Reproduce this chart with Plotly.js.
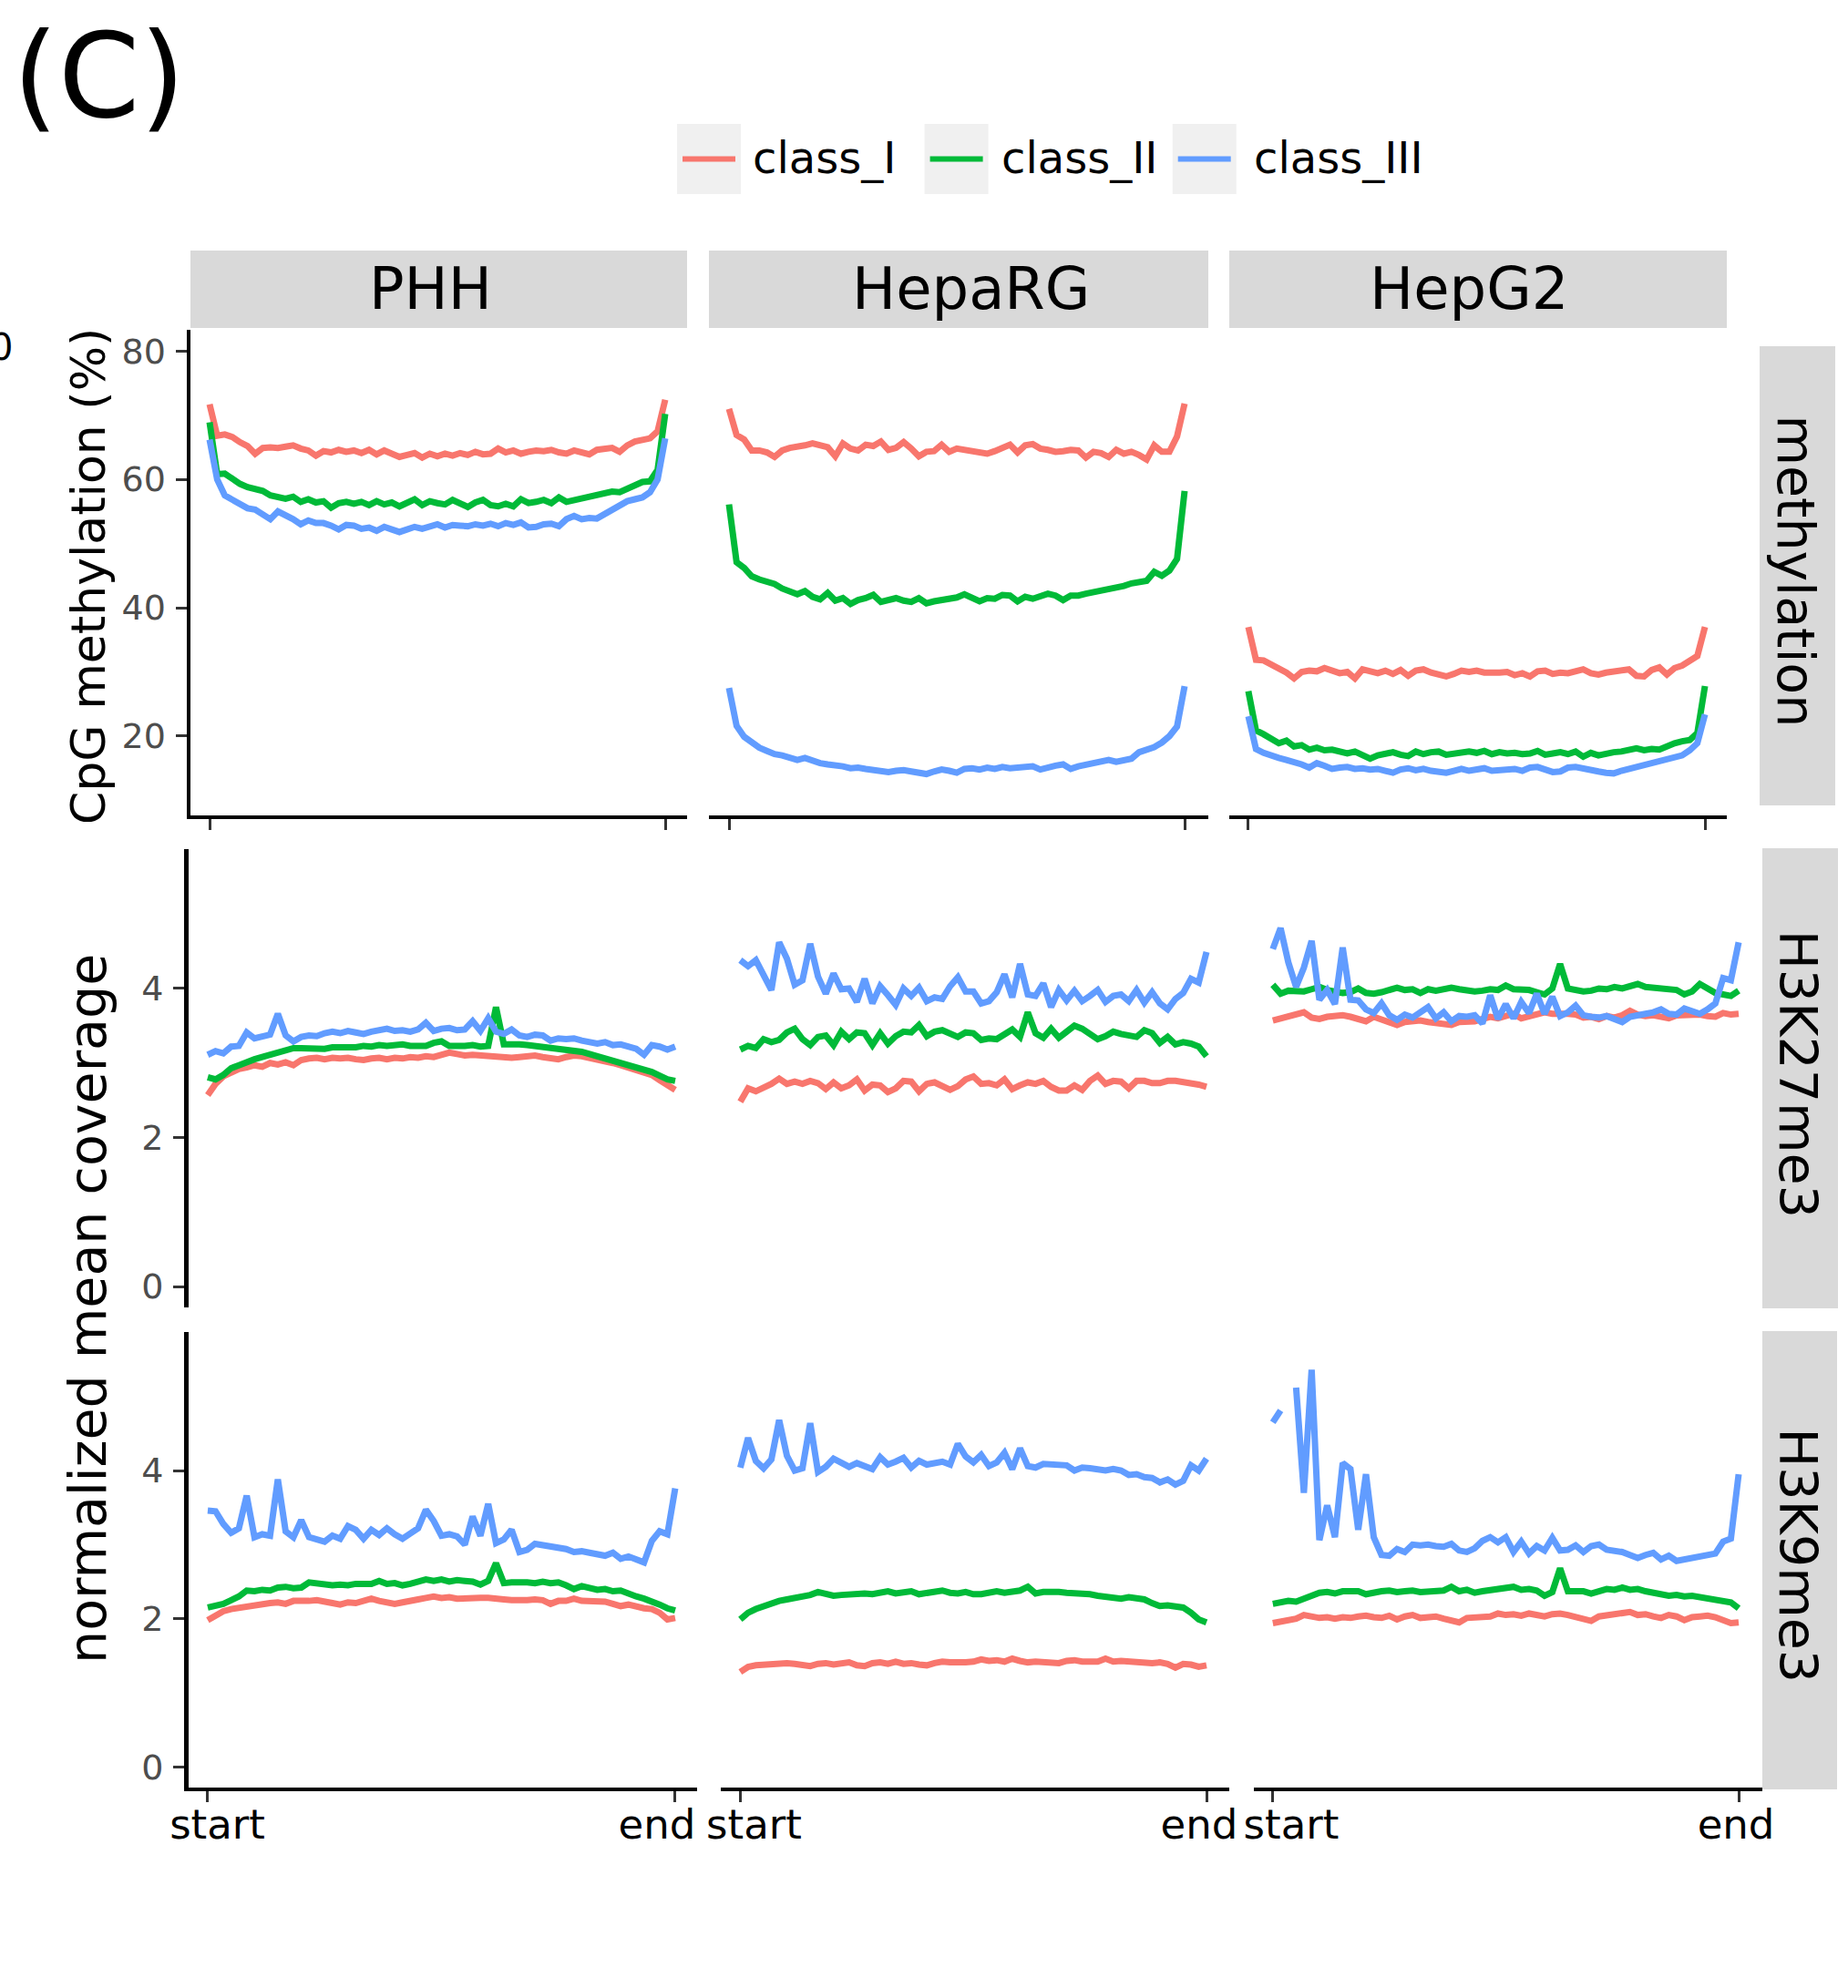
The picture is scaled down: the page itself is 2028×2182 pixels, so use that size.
<!DOCTYPE html>
<html>
<head>
<meta charset="utf-8">
<script src="https://cdn.plot.ly/plotly-3.0.1.min.js"></script>
<style>
html,body{margin:0;padding:0;background:#ffffff;}
#chart{width:2028px;height:2182px;}
</style>
</head>
<body>
<div id="chart"></div>
<script>
// ---------------- DATA ----------------
const classes = ["class_I", "class_II", "class_III"];
const cellLines = ["PHH", "HepaRG", "HepG2"];
const marks = ["methylation", "H3K27me3", "H3K9me3"];
const tickLabelsX = ["start", "end"];
const classColors = ["#F8766D", "#00BA38", "#619CFF"];

// CpG methylation (%)
const meth_PHH_I = [71.7,66.8,67.0,66.6,65.8,65.2,64.0,64.9,65.0,64.9,
 65.1,65.3,64.8,64.5,63.7,64.4,64.2,64.6,64.3,64.5,
 64.1,64.6,63.9,64.5,64.0,63.5,63.8,64.1,63.4,64.0,
 63.6,64.0,63.7,64.1,63.8,64.3,63.9,64.0,64.8,64.2,
 64.5,64.0,64.3,64.5,64.4,64.6,64.2,64.0,64.5,64.3,
 63.9,64.6,64.8,64.9,64.3,65.3,65.9,66.2,66.4,67.5,
 72.4];
const meth_PHH_II = [68.9,60.8,60.9,60.0,59.3,58.8,58.6,58.2,57.5,57.2,
 57.0,57.3,56.5,56.9,56.4,56.6,55.6,56.3,56.5,56.2,
 56.5,56.0,56.6,56.1,56.4,55.8,56.3,56.9,56.0,56.6,
 56.3,56.1,56.8,56.2,55.7,56.4,56.8,56.0,55.8,56.2,
 55.8,56.9,56.3,56.5,56.8,56.3,57.2,56.5,56.8,57.0,
 57.3,57.5,57.9,58.1,58.0,58.6,59.2,59.6,59.7,61.5,
 70.2];
const meth_PHH_III = [66.2,60.0,57.5,56.8,56.0,55.5,55.3,54.5,53.8,55.0,
 54.5,53.8,53.0,53.6,53.2,53.2,52.8,52.2,52.9,52.8,
 52.3,52.5,52.0,52.6,52.2,51.8,52.2,52.6,52.3,52.7,
 53.0,52.5,52.9,52.8,52.7,53.0,52.8,53.1,52.7,53.2,
 52.9,53.3,52.5,52.6,53.0,53.1,52.7,53.8,54.3,53.8,
 54.0,53.9,54.6,55.2,56.0,56.6,56.9,57.2,58.0,60.0,
 66.4];
const meth_HepaRG_I = [71.0,66.9,66.2,64.5,64.5,64.2,63.5,64.5,64.9,65.0,
 65.3,65.6,65.2,65.0,63.6,65.6,64.8,64.5,65.4,65.2,
 65.9,64.6,64.9,65.8,64.8,63.6,64.3,64.4,65.4,64.3,
 64.8,64.6,64.5,64.3,64.0,64.4,64.9,65.4,64.2,65.3,
 65.5,64.8,64.6,64.3,64.4,64.6,64.5,63.4,64.3,64.1,
 63.5,64.6,64.0,64.3,63.8,63.1,65.3,64.3,64.3,66.7,
 71.8];
const meth_HepaRG_II = [56.1,47.1,46.2,44.9,44.4,44.0,43.7,43.0,42.6,42.1,
 42.6,41.7,41.3,42.3,41.1,41.5,40.6,41.2,41.5,42.0,
 40.9,41.1,41.5,41.1,40.9,41.5,40.7,41.0,41.2,41.2,
 41.6,42.1,41.5,41.0,41.5,41.4,42.0,41.9,41.0,41.7,
 41.4,41.7,42.2,41.9,41.2,41.9,41.9,42.2,42.4,42.6,
 42.9,43.1,43.4,43.8,43.9,44.2,45.6,45.0,45.8,47.6,
 58.2];
const meth_HepaRG_III = [27.5,21.6,19.9,19.1,18.2,17.7,17.2,17.0,16.7,16.3,
 16.6,16.1,15.8,15.6,15.5,15.3,15.0,15.1,14.9,14.7,
 14.6,14.4,14.6,14.7,14.5,14.3,14.1,14.5,14.8,14.6,
 14.3,14.9,15.0,14.8,15.1,14.9,15.2,15.0,15.1,15.2,
 15.3,14.8,15.2,15.4,15.6,14.9,15.3,15.5,15.7,16.0,
 16.3,16.0,16.2,16.5,17.5,17.9,18.3,19.0,20.0,21.5,
 27.8];
const meth_HepG2_I = [37.0,31.9,31.8,31.2,30.4,29.9,29.0,30.0,30.2,30.1,
 30.6,30.3,29.8,30.0,29.0,30.4,30.2,29.8,30.2,29.7,
 30.3,29.4,30.2,30.4,29.9,29.6,29.3,29.7,30.2,30.0,
 30.2,29.9,29.8,29.9,30.0,29.5,29.8,29.3,30.1,30.2,
 29.7,29.9,29.8,30.2,30.4,29.8,29.6,29.9,30.0,30.1,
 30.4,29.4,29.3,30.3,30.7,29.6,30.6,31.0,31.7,32.5,
 37.0];
const meth_HepG2_II = [27.0,20.9,20.3,19.7,18.9,19.3,18.4,18.6,17.9,18.2,
 17.8,17.9,17.6,17.3,17.6,17.0,16.5,17.0,17.3,17.5,
 17.1,16.9,17.6,17.2,17.5,17.6,17.1,17.2,17.3,17.6,
 17.4,17.7,17.2,17.5,17.3,17.4,17.2,17.3,17.7,17.1,
 17.3,17.5,17.2,17.6,16.8,17.4,17.0,17.3,17.5,17.6,
 17.8,18.1,17.8,18.0,17.9,18.5,18.9,19.2,19.4,20.5,
 27.8];
const meth_HepG2_III = [23.1,18.0,17.4,16.9,16.6,16.3,16.0,15.6,15.1,15.8,
 15.4,14.9,15.1,15.2,14.9,15.0,14.8,14.9,14.6,14.3,
 14.8,15.0,14.7,14.9,14.6,14.4,14.3,14.6,14.9,14.6,
 14.8,15.0,14.6,14.7,14.8,14.9,14.6,15.1,15.2,14.9,
 14.4,14.5,15.1,15.2,14.9,14.8,14.5,14.3,14.2,14.6,
 14.9,15.1,15.4,15.7,16.1,16.3,16.6,17.0,17.8,18.9,
 23.4];

// H3K27me3 normalized mean coverage
const k27_PHH_I = [2.57,2.72,2.82,2.88,2.92,2.94,2.97,2.95,3.00,2.98,
 3.01,2.97,3.04,3.06,3.07,3.05,3.07,3.06,3.07,3.05,
 3.04,3.06,3.07,3.05,3.07,3.06,3.08,3.07,3.09,3.08,
 3.12,3.14,3.12,3.10,3.11,3.10,3.09,3.10,3.08,3.07,
 3.08,3.09,3.10,3.08,3.06,3.05,3.08,3.10,3.09,3.07,
 3.06,3.04,3.00,2.97,2.94,2.91,2.88,2.84,2.77,2.70,
 2.64];
const k27_PHH_II = [2.81,2.78,2.84,2.93,2.97,3.02,3.05,3.08,3.11,3.15,
 3.19,3.20,3.20,3.19,3.20,3.19,3.21,3.20,3.21,3.21,
 3.23,3.22,3.24,3.23,3.24,3.25,3.23,3.24,3.23,3.27,
 3.29,3.23,3.22,3.23,3.24,3.22,3.23,3.75,3.25,3.26,
 3.25,3.24,3.23,3.21,3.20,3.19,3.18,3.16,3.15,3.12,
 3.09,3.06,3.03,3.00,2.97,2.95,2.93,2.88,2.83,2.78,
 2.76];
const k27_PHH_III = [3.11,3.16,3.13,3.22,3.23,3.41,3.33,3.36,3.38,3.66,
 3.37,3.29,3.35,3.37,3.36,3.40,3.42,3.40,3.43,3.41,
 3.39,3.42,3.44,3.46,3.43,3.44,3.42,3.45,3.54,3.43,
 3.46,3.47,3.44,3.45,3.56,3.43,3.60,3.42,3.39,3.45,
 3.37,3.35,3.38,3.37,3.30,3.33,3.32,3.33,3.30,3.27,
 3.26,3.28,3.24,3.25,3.21,3.19,3.11,3.24,3.22,3.18,
 3.22];
const k27_HepaRG_I = [2.48,2.66,2.62,2.66,2.72,2.79,2.72,2.75,2.72,2.76,
 2.73,2.65,2.74,2.66,2.70,2.78,2.63,2.71,2.70,2.61,
 2.66,2.76,2.75,2.62,2.72,2.74,2.70,2.64,2.69,2.78,
 2.82,2.72,2.73,2.70,2.78,2.65,2.70,2.74,2.72,2.76,
 2.68,2.63,2.63,2.70,2.64,2.76,2.83,2.72,2.76,2.75,
 2.66,2.76,2.76,2.73,2.73,2.76,2.76,2.75,2.74,2.71,
 2.68];
const k27_HepaRG_II = [3.18,3.23,3.20,3.32,3.28,3.31,3.41,3.46,3.32,3.24,
 3.35,3.37,3.24,3.42,3.32,3.41,3.40,3.24,3.40,3.26,
 3.36,3.42,3.41,3.51,3.36,3.42,3.44,3.40,3.35,3.41,
 3.40,3.31,3.33,3.32,3.38,3.45,3.35,3.68,3.40,3.34,
 3.46,3.34,3.42,3.50,3.46,3.40,3.32,3.36,3.42,3.39,
 3.37,3.35,3.44,3.40,3.27,3.35,3.25,3.28,3.26,3.22,
 3.09];
const k27_HepaRG_III = [4.38,4.30,4.38,4.17,3.98,4.62,4.40,4.05,4.11,4.60,
 4.16,3.93,4.20,3.99,4.00,3.82,4.13,3.80,4.03,3.91,
 3.78,4.00,3.90,4.01,3.83,3.88,3.86,4.03,4.15,3.96,
 3.96,3.80,3.83,3.95,4.19,3.88,4.33,3.92,3.90,4.07,
 3.75,3.98,3.84,3.97,3.83,3.90,3.98,3.82,3.90,3.92,
 3.83,3.98,3.81,3.95,3.80,3.72,3.86,3.94,4.13,4.08,
 4.49];
const k27_HepG2_I = [3.57,3.60,3.62,3.64,3.68,3.61,3.59,3.62,3.63,3.64,
 3.62,3.60,3.56,3.62,3.59,3.56,3.51,3.55,3.56,3.57,
 3.55,3.53,3.52,3.51,3.55,3.55,3.56,3.59,3.62,3.60,
 3.62,3.66,3.60,3.63,3.65,3.68,3.66,3.67,3.66,3.65,
 3.61,3.62,3.59,3.63,3.61,3.64,3.70,3.65,3.63,3.64,
 3.63,3.60,3.64,3.65,3.64,3.65,3.63,3.62,3.67,3.65,
 3.66];
const k27_HepG2_II = [4.05,3.93,3.97,3.97,3.96,3.99,4.02,3.98,3.96,3.94,
 3.95,4.00,3.94,3.93,3.95,3.99,4.01,3.98,3.99,3.94,
 3.99,3.97,4.00,4.01,3.99,3.97,3.96,3.97,3.99,3.98,
 4.04,3.99,3.99,3.98,3.95,3.92,4.00,4.33,4.00,3.98,
 3.96,3.97,4.00,3.99,4.02,4.00,4.04,4.06,4.02,4.01,
 3.99,4.00,3.98,3.92,3.96,4.06,3.99,3.94,3.92,3.90,
 3.97];
const k27_HepG2_III = [4.53,4.81,4.35,4.02,4.28,4.64,3.85,3.98,3.79,4.55,
 3.85,3.84,3.72,3.67,3.80,3.64,3.58,3.65,3.61,3.68,
 3.75,3.60,3.68,3.56,3.63,3.62,3.64,3.53,3.91,3.59,
 3.79,3.60,3.82,3.67,3.93,3.66,3.89,3.63,3.68,3.77,
 3.64,3.62,3.61,3.63,3.59,3.55,3.62,3.65,3.66,3.68,
 3.72,3.66,3.65,3.73,3.70,3.66,3.72,3.80,4.14,4.11,
 4.62];

// H3K9me3 normalized mean coverage
const k9_PHH_I = [1.98,2.05,2.10,2.13,2.15,2.15,2.17,2.20,2.21,2.22,
 2.20,2.24,2.23,2.24,2.25,2.24,2.21,2.19,2.22,2.21,
 2.24,2.27,2.24,2.22,2.20,2.22,2.23,2.26,2.28,2.30,
 2.28,2.29,2.27,2.28,2.27,2.28,2.28,2.28,2.26,2.25,
 2.24,2.25,2.26,2.25,2.20,2.24,2.24,2.27,2.24,2.24,
 2.22,2.23,2.20,2.17,2.19,2.16,2.14,2.13,2.08,1.99,
 2.01];
const k9_PHH_II = [2.15,2.17,2.20,2.25,2.30,2.38,2.37,2.39,2.38,2.42,
 2.43,2.41,2.42,2.49,2.47,2.46,2.45,2.46,2.45,2.47,
 2.48,2.47,2.51,2.47,2.48,2.45,2.47,2.49,2.53,2.51,
 2.53,2.50,2.52,2.51,2.50,2.46,2.51,2.75,2.48,2.49,
 2.50,2.49,2.48,2.50,2.48,2.49,2.45,2.40,2.44,2.41,
 2.39,2.40,2.37,2.38,2.33,2.30,2.27,2.24,2.19,2.14,
 2.11];
const k9_PHH_III = [3.46,3.45,3.28,3.16,3.22,3.66,3.10,3.14,3.12,3.88,
 3.18,3.10,3.33,3.10,3.07,3.04,3.12,3.08,3.25,3.20,
 3.08,3.20,3.13,3.22,3.14,3.08,3.15,3.22,3.47,3.32,
 3.12,3.14,3.11,3.00,3.38,3.12,3.55,3.02,3.07,3.20,
 2.90,2.93,3.01,2.99,2.97,2.97,2.94,2.90,2.91,2.89,
 2.86,2.85,2.89,2.81,2.84,2.79,2.76,3.05,3.18,3.14,
 3.76];
const k9_HepaRG_I = [1.28,1.35,1.37,1.38,1.40,1.41,1.40,1.39,1.37,1.36,
 1.39,1.40,1.38,1.39,1.41,1.37,1.36,1.40,1.41,1.39,
 1.42,1.39,1.40,1.38,1.37,1.40,1.42,1.41,1.40,1.41,
 1.42,1.45,1.43,1.44,1.42,1.46,1.43,1.41,1.42,1.42,
 1.41,1.40,1.43,1.44,1.42,1.43,1.42,1.46,1.42,1.43,
 1.42,1.41,1.42,1.40,1.41,1.39,1.34,1.39,1.38,1.35,
 1.37];
const k9_HepaRG_II = [1.99,2.08,2.13,2.17,2.21,2.24,2.26,2.28,2.28,2.32,
 2.36,2.33,2.31,2.32,2.33,2.35,2.34,2.33,2.35,2.37,
 2.34,2.36,2.37,2.33,2.35,2.35,2.38,2.35,2.34,2.36,
 2.33,2.33,2.36,2.37,2.35,2.36,2.38,2.43,2.34,2.36,
 2.37,2.36,2.35,2.35,2.34,2.33,2.31,2.29,2.27,2.27,
 2.29,2.28,2.26,2.21,2.17,2.18,2.16,2.15,2.08,1.99,
 1.95];
const k9_HepaRG_III = [4.04,4.44,4.13,4.03,4.15,4.68,4.20,4.00,4.03,4.64,
 3.98,4.05,4.16,4.11,4.05,4.10,4.07,4.02,4.18,4.08,
 4.12,4.17,4.04,4.13,4.08,4.09,4.12,4.08,4.36,4.19,
 4.11,4.21,4.06,4.11,4.24,4.02,4.30,4.06,4.04,4.09,
 4.08,4.07,4.07,4.00,4.04,4.03,4.01,4.00,4.02,4.00,
 3.94,3.95,3.91,3.90,3.84,3.88,3.81,3.86,4.07,4.00,
 4.16];
const k9_HepG2_I = [1.94,1.96,1.96,2.00,2.05,2.03,2.01,2.02,2.00,2.02,
 2.01,2.03,2.04,2.02,2.01,2.04,1.99,2.03,2.05,2.01,
 2.02,2.03,2.00,1.98,1.95,2.01,2.02,2.04,2.03,2.07,
 2.05,2.06,2.04,2.07,2.05,2.03,2.06,2.07,2.05,2.03,
 2.01,1.97,2.03,2.04,2.05,2.07,2.09,2.05,2.06,2.03,
 2.01,2.05,2.03,1.98,2.02,2.03,2.04,2.02,1.99,1.94,
 1.95];
const k9_HepG2_II = [2.20,2.22,2.24,2.23,2.27,2.33,2.35,2.36,2.34,2.37,
 2.36,2.37,2.33,2.36,2.37,2.38,2.36,2.37,2.38,2.36,
 2.37,2.36,2.38,2.43,2.37,2.39,2.35,2.37,2.38,2.40,
 2.41,2.43,2.39,2.40,2.38,2.31,2.36,2.68,2.37,2.38,
 2.37,2.34,2.37,2.40,2.39,2.42,2.39,2.40,2.37,2.35,
 2.32,2.31,2.32,2.30,2.31,2.29,2.26,2.25,2.24,2.22,
 2.14];
const k9_HepG2_III = [4.65,4.81,null,5.12,3.70,5.36,3.06,3.53,3.10,4.10,
 4.02,3.20,3.95,3.10,2.86,2.85,2.94,2.90,3.00,2.99,
 3.00,2.98,2.97,3.01,2.92,2.90,2.95,3.05,3.10,3.03,
 3.10,2.90,3.04,2.88,2.98,2.92,3.09,2.92,2.93,2.99,
 2.90,2.98,3.00,2.93,2.92,2.90,2.86,2.82,2.86,2.89,
 2.80,2.85,2.78,2.80,2.82,2.86,2.87,2.88,3.04,3.08,
 3.95];

// bin index along the region (start .. end)
const bins = Array.from({length: meth_PHH_I.length}, (_, i) => i);
const lastBin = bins[bins.length - 1];

const panelData = [
  [[meth_PHH_I, meth_PHH_II, meth_PHH_III], [meth_HepaRG_I, meth_HepaRG_II, meth_HepaRG_III], [meth_HepG2_I, meth_HepG2_II, meth_HepG2_III]],
  [[k27_PHH_I, k27_PHH_II, k27_PHH_III], [k27_HepaRG_I, k27_HepaRG_II, k27_HepaRG_III], [k27_HepG2_I, k27_HepG2_II, k27_HepG2_III]],
  [[k9_PHH_I, k9_PHH_II, k9_PHH_III], [k9_HepaRG_I, k9_HepaRG_II, k9_HepaRG_III], [k9_HepG2_I, k9_HepG2_II, k9_HepG2_III]]
];
const yTicksMeth = [20, 40, 60, 80];
const yTicksCov = [0, 2, 4];

// ---------------- LAYOUT GEOMETRY (pixels) ----------------
const W = 2028, H = 2182;
const fx = p => p / W;
const fy = p => 1 - p / H;
const FONT = "DejaVu Sans, Verdana, sans-serif";

const rowY = [[362, 895], [932, 1435], [1462, 1962]];
const colX = [
  [[209, 754], [778, 1326], [1349, 1895]],
  [[206.5, 765], [791, 1349], [1376, 1934]],
  [[206.5, 765], [791, 1349], [1376, 1934]]
];
const xPad = [
  [[-2.52, 62.88], [-2.64, 63.12], [-2.51, 62.87]],
  [[-2.51, 62.81], [-2.51, 62.93], [-2.44, 63.05]],
  [[-2.51, 62.81], [-2.51, 62.93], [-2.44, 63.05]]
];
// where the "start"/"end" labels sit (slightly inside the tick marks, as in the reference)
const labelAt = [[1.24, 57.66], [1.77, 59.06], [2.37, 59.65]];
const yRange = [[7.65, 83.3], [-0.28, 5.87], [-0.28, 5.87]];

const traces = [];
const layout = {
  width: W, height: H,
  margin: {l: 0, r: 0, t: 0, b: 0, pad: 0},
  paper_bgcolor: "#ffffff",
  plot_bgcolor: "rgba(0,0,0,0)",
  showlegend: false,
  font: {family: FONT, color: "#000000"},
  shapes: [],
  annotations: []
};

for (let r = 0; r < 3; r++) {
  for (let c = 0; c < 3; c++) {
    const n = r * 3 + c + 1;
    const xa = n === 1 ? "x" : "x" + n;
    const ya = n === 1 ? "y" : "y" + n;
    for (let k = 0; k < 3; k++) {
      traces.push({
        type: "scatter", mode: "lines",
        x: bins, y: panelData[r][c][k],
        xaxis: xa, yaxis: ya,
        name: classes[k],
        connectgaps: false,
        line: {color: classColors[k], width: 7},
        hoverinfo: "skip"
      });
    }
    const xKey = n === 1 ? "xaxis" : "xaxis" + n;
    const yKey = n === 1 ? "yaxis" : "yaxis" + n;
    const xax = {
      domain: [fx(colX[r][c][0]), fx(colX[r][c][1])],
      range: xPad[r][c],
      anchor: ya,
      showgrid: false, zeroline: false,
      showline: r !== 1, linecolor: "#000000", linewidth: 4,
      ticks: r === 0 ? "outside" : "", ticklen: 12, tickwidth: 3, tickcolor: "#333333",
      tickmode: "array", tickvals: [0, lastBin], ticktext: ["", ""],
      showticklabels: false,
      tickfont: {family: FONT, size: 45, color: "#000000"},
      fixedrange: true
    };
    if (r === 2) {
      xax.tickvals = labelAt[c];
      xax.ticktext = tickLabelsX;
      xax.showticklabels = true;
      xax.ticks = "";
      xax.ticklabelstandoff = -2;
      xax.minor = {tickmode: "array", tickvals: [0, lastBin], ticks: "outside",
                   ticklen: 12, tickwidth: 3, tickcolor: "#333333", showgrid: false};
    }
    layout[xKey] = xax;
    layout[yKey] = {
      domain: [fy(rowY[r][1]), fy(rowY[r][0])],
      range: yRange[r],
      anchor: xa,
      showgrid: false, zeroline: false,
      showline: c === 0, linecolor: "#000000", linewidth: 4.5,
      ticks: c === 0 ? "outside" : "", ticklen: 12, tickwidth: 3, tickcolor: "#333333",
      tickmode: "array", tickvals: r === 0 ? yTicksMeth : yTicksCov,
      showticklabels: c === 0,
      tickfont: {family: FONT, size: 38, color: "#4D4D4D"},
      ticklabelstandoff: 3,
      fixedrange: true
    };
  }
}

// strips on top (cell lines)
const STRIP = "#D9D9D9";
const topTextShift = [-9, 13, -10];
for (let c = 0; c < 3; c++) {
  layout.shapes.push({type: "rect", xref: "paper", yref: "paper",
    x0: fx(colX[0][c][0]), x1: fx(colX[0][c][1]), y0: fy(360), y1: fy(275),
    fillcolor: STRIP, line: {width: 0}, layer: "below"});
  layout.annotations.push({xref: "paper", yref: "paper",
    x: fx((colX[0][c][0] + colX[0][c][1]) / 2 + topTextShift[c]), y: fy(317),
    xanchor: "center", yanchor: "middle", showarrow: false,
    text: cellLines[c], font: {family: FONT, size: 64, color: "#000000"}});
}
// strips on the right (marks)
const rightStrips = [[1931, 2014, 380, 884], [1934, 2017, 931, 1436], [1934, 2016, 1461, 1964]];
for (let r = 0; r < 3; r++) {
  const s = rightStrips[r];
  layout.shapes.push({type: "rect", xref: "paper", yref: "paper",
    x0: fx(s[0]), x1: fx(s[1]), y0: fy(s[3]), y1: fy(s[2]),
    fillcolor: STRIP, line: {width: 0}, layer: "below"});
  layout.annotations.push({xref: "paper", yref: "paper",
    x: fx((s[0] + s[1]) / 2 - 2), y: fy((s[2] + s[3]) / 2 - 5),
    xanchor: "center", yanchor: "middle", showarrow: false, textangle: 90,
    text: marks[r], font: {family: FONT, size: 57, color: "#000000"}});
}

// legend (ggplot style keys)
const keyBoxes = [743, 1014.6, 1286.7];
const keyText = [827, 1100, 1377];
for (let k = 0; k < 3; k++) {
  layout.shapes.push({type: "rect", xref: "paper", yref: "paper",
    x0: fx(keyBoxes[k]), x1: fx(keyBoxes[k] + 70), y0: fy(213), y1: fy(136),
    fillcolor: "#F0F0F0", line: {width: 0}});
  layout.shapes.push({type: "line", xref: "paper", yref: "paper",
    x0: fx(keyBoxes[k] + 6), x1: fx(keyBoxes[k] + 64), y0: fy(174.5), y1: fy(174.5),
    line: {color: classColors[k], width: 6}});
  layout.annotations.push({xref: "paper", yref: "paper",
    x: fx(keyText[k] - 3), y: fy(173), xanchor: "left", yanchor: "middle", showarrow: false,
    text: classes[k], font: {family: FONT, size: 48, color: "#000000"}});
}

// axis titles
layout.annotations.push({xref: "paper", yref: "paper", x: fx(97), y: fy(633),
  xanchor: "center", yanchor: "middle", showarrow: false, textangle: -90,
  text: "CpG methylation (%)", font: {family: FONT, size: 52, color: "#000000"}});
layout.annotations.push({xref: "paper", yref: "paper", x: fx(96), y: fy(1437),
  xanchor: "center", yanchor: "middle", showarrow: false, textangle: -90,
  text: "normalized mean coverage", font: {family: FONT, size: 57, color: "#000000"}});

// panel tag and clipped fragment at the left edge
layout.annotations.push({xref: "paper", yref: "paper", x: fx(12), y: fy(84),
  xanchor: "left", yanchor: "middle", showarrow: false,
  text: "(C)", font: {family: FONT, size: 128, color: "#000000"}});
layout.annotations.push({xref: "paper", yref: "paper", x: fx(16), y: fy(381),
  xanchor: "right", yanchor: "middle", showarrow: false,
  text: "0", font: {family: FONT, size: 40, color: "#000000"}});

Plotly.newPlot("chart", traces, layout, {displayModeBar: false, staticPlot: true});
</script>
</body>
</html>
